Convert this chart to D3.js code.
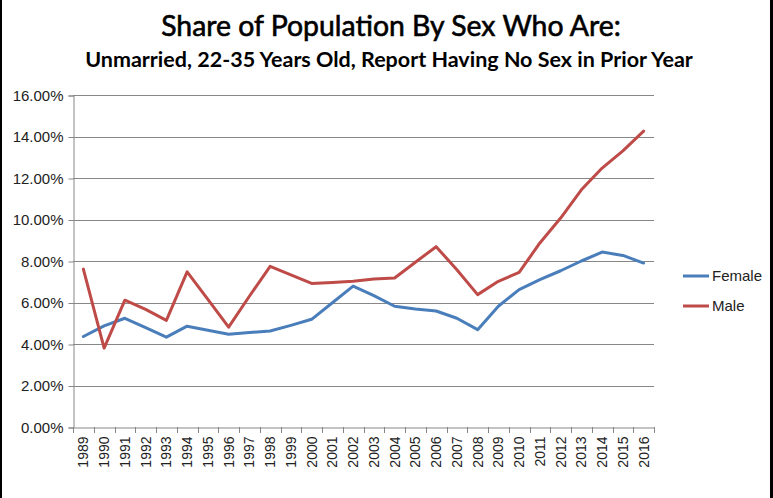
<!DOCTYPE html>
<html>
<head>
<meta charset="utf-8">
<script src="https://cdn.jsdelivr.net/npm/d3@7"></script>
<style>
  html, body { margin: 0; padding: 0; background: #fff; }
  svg { display: block; }
</style>
</head>
<body>
<svg id="chart" width="773" height="498"></svg>
<script>
const years = ["1989","1990","1991","1992","1993","1994","1995","1996","1997","1998","1999","2000","2001","2002","2003","2004","2005","2006","2007","2008","2009","2010","2011","2012","2013","2014","2015","2016"];
const female = [4.36,4.87,5.24,4.79,4.33,4.86,4.66,4.47,4.55,4.63,4.90,5.19,5.99,6.79,6.33,5.82,5.69,5.59,5.24,4.69,5.82,6.62,7.10,7.53,8.00,8.43,8.27,7.90];
const male = [7.61,3.80,6.11,5.67,5.14,7.48,6.15,4.81,6.30,7.74,7.33,6.92,6.96,7.02,7.13,7.18,7.94,8.69,7.58,6.38,7.02,7.45,8.87,10.07,11.43,12.48,13.31,14.26];
const yTicks = [0,2,4,6,8,10,12,14,16];
const seriesNames = ["Female","Male"];
const colors = ["#4A7EBB","#BE4B48"];
const title = "Share of Population By Sex Who Are:";
const subtitle = "Unmarried, 22-35 Years Old, Report Having No Sex in Prior Year";

const svg = d3.select("#chart");
const W = 773, H = 498;
const plot = {left: 73, right: 654, top: 95, bottom: 427};

// borders
svg.append("rect").attr("x",0).attr("y",0).attr("width",2).attr("height",H).attr("fill","#000");
svg.append("rect").attr("x",770).attr("y",0).attr("width",3).attr("height",H).attr("fill","#000");

const x = d3.scaleBand().domain(years).range([plot.left, plot.right]);
const y = d3.scaleLinear().domain([0,16]).range([plot.bottom, plot.top]);

// gridlines
svg.append("g").selectAll("line").data(yTicks.filter(d=>d>0)).join("line")
  .attr("x1", plot.left).attr("x2", plot.right)
  .attr("y1", d=>Math.round(y(d))+0.5).attr("y2", d=>Math.round(y(d))+0.5)
  .attr("stroke","#878787").attr("stroke-width",1);

// y axis
const yAxis = d3.axisLeft(y).tickValues(yTicks).tickSize(5).tickPadding(5)
  .tickFormat(d => d.toFixed(2) + "%");
const gy = svg.append("g").attr("transform",`translate(${plot.left+0.5},0.5)`).call(yAxis);
gy.select(".domain").attr("stroke","#878787");
gy.selectAll(".tick line").attr("stroke","#878787");
gy.selectAll(".tick text").attr("font-family","Liberation Sans, Arial, sans-serif")
  .attr("font-size",15).attr("fill","#222");

// x axis
const xAxis = d3.axisBottom(x).tickSize(0).tickPadding(0);
const gx = svg.append("g").attr("transform",`translate(0,${plot.bottom+0.5})`).call(xAxis);
gx.select(".domain").attr("stroke","#878787");
gx.selectAll(".tick text")
  .attr("font-family","Liberation Sans, Arial, sans-serif").attr("font-size",14).attr("fill","#222")
  .attr("text-anchor","end").attr("dy","0.35em")
  .attr("transform","translate(0,9) rotate(-90)");
// category boundary ticks
const bounds = years.map(d => x(d)).concat([x(years[years.length-1]) + x.bandwidth()]);
svg.append("g").selectAll("line").data(bounds).join("line")
  .attr("x1", d=>Math.round(d)+0.5).attr("x2", d=>Math.round(d)+0.5)
  .attr("y1", plot.bottom).attr("y2", plot.bottom+6)
  .attr("stroke","#878787");

// lines
const line = d3.line().x((d,i)=>x(years[i]) + x.bandwidth()/2).y(d=>y(d));
[female, male].forEach((s,k)=>{
  svg.append("path").datum(s).attr("d", line).attr("fill","none")
    .attr("stroke", colors[k]).attr("stroke-width",3).attr("stroke-linejoin","round").attr("stroke-linecap","round");
});

// legend
const lg = svg.append("g");
seriesNames.forEach((n,k)=>{
  const ly = 276 + k*30;
  lg.append("line").attr("x1",683).attr("x2",709).attr("y1",ly).attr("y2",ly)
    .attr("stroke",colors[k]).attr("stroke-width",3);
  lg.append("text").attr("x",712).attr("y",ly+5).text(n)
    .attr("font-family","Liberation Sans, Arial, sans-serif").attr("font-size",15).attr("fill","#222");
});

// titles
function fitText(sel, target) {
  const w = sel.node().getComputedTextLength();
  const fs = parseFloat(sel.attr("font-size"));
  sel.attr("font-size", fs * target / w);
}
const t1 = svg.append("text").attr("x",391).attr("y",36).attr("text-anchor","middle")
  .attr("font-family","Lato, 'Open Sans', sans-serif").attr("font-size",27).attr("fill","#000")
  .attr("stroke","#000").attr("stroke-width",0.6).text(title);
fitText(t1, 460);
const t2 = svg.append("text").attr("x",389).attr("y",67).attr("text-anchor","middle")
  .attr("font-family","Lato, 'Open Sans', sans-serif").attr("font-weight","bold").attr("font-size",19).attr("fill","#000").text(subtitle);
fitText(t2, 608);
</script>
</body>
</html>
